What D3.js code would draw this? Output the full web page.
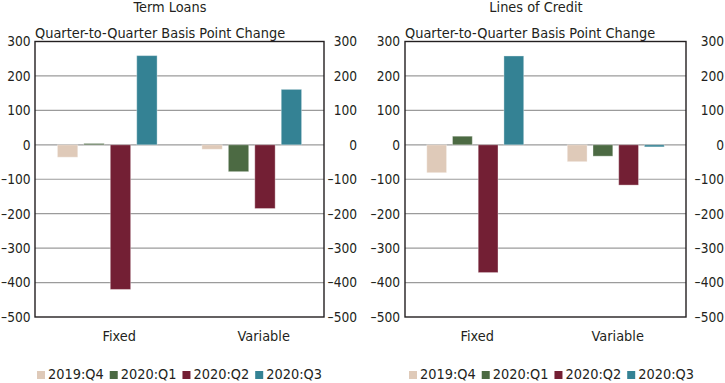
<!DOCTYPE html>
<html>
<head>
<meta charset="utf-8">
<script src="https://cdn.jsdelivr.net/npm/d3@7"></script>
<style>
  html, body { margin: 0; padding: 0; background: #ffffff; }
  svg { display: block; }
  text { font-family: "DejaVu Sans Condensed", "DejaVu Sans", sans-serif; font-stretch: condensed; fill: #231f20; }
</style>
</head>
<body>
<svg id="chart" width="725" height="383"></svg>
<script>
// ---- data ----
const categories = ["Fixed", "Variable"];
const seriesNames = ["2019:Q4", "2020:Q1", "2020:Q2", "2020:Q3"];
const panelTitles = ["Term Loans", "Lines of Credit"];
const subtitle = "Quarter-to-Quarter Basis Point Change";
// values per category, in series order
const termLoansFixed    = [-36, 4, -420, 259];
const termLoansVariable = [-13, -78, -185, 161];
const linesOfCreditFixed    = [-81, 25, -371, 258];
const linesOfCreditVariable = [-49, -33, -117, -6];
const yTicks = [300, 200, 100, 0, -100, -200, -300, -400, -500];
const seriesColors = ["#dfcab9", "#4c6a43", "#731f34", "#348294"];

// ---- layout ----
const svg = d3.select("#chart");
const panels = [
  { title: panelTitles[0], data: [termLoansFixed, termLoansVariable],
    x0: 35, x1: 324, rightLabelX: 33, leftPad: 4.5, catDx: 12, legendX: 37 },
  { title: panelTitles[1], data: [linesOfCreditFixed, linesOfCreditVariable],
    x0: 405, x1: 686, rightLabelX: 38, leftPad: 5, catDx: 2, legendX: 409 }
];
const yTop = 41.5, yBottom = 317;
const y = d3.scaleLinear().domain([-500, 300]).range([yBottom, yTop]);
const color = d3.scaleOrdinal().domain(seriesNames).range(seriesColors);
const fmt = d => (d < 0 ? "\u2013" : "") + Math.abs(d);
const textSize = "14.4px";
const tickSize = "13.6px";

panels.forEach(p => {
  const g = svg.append("g");
  const x0 = d3.scaleBand().domain(categories).range([p.x0, p.x1])
    .paddingInner(0.31).paddingOuter(0.155);
  const x1 = d3.scaleBand().domain(seriesNames).range([0, x0.bandwidth()])
    .paddingInner(0.23).paddingOuter(0);

  // gridlines
  g.append("g").selectAll("line")
    .data(yTicks.filter(t => t !== 300 && t !== -500))
    .join("line")
    .attr("x1", p.x0).attr("x2", p.x1)
    .attr("y1", d => y(d)).attr("y2", d => y(d))
    .attr("stroke", "#9b9b9b").attr("stroke-width", 1.2);

  // bars
  const groups = g.append("g").selectAll("g")
    .data(categories.map((c, i) => ({ cat: c, vals: p.data[i] })))
    .join("g")
    .attr("transform", d => `translate(${x0(d.cat)},0)`);
  groups.selectAll("rect")
    .data(d => d.vals.map((v, i) => ({ s: seriesNames[i], v })))
    .join("rect")
    .attr("x", d => x1(d.s))
    .attr("width", x1.bandwidth())
    .attr("y", d => Math.min(y(d.v), y(0)))
    .attr("height", d => Math.abs(y(d.v) - y(0)))
    .attr("fill", d => color(d.s))
    .attr("stroke", "#ffffff").attr("stroke-opacity", 0.35).attr("stroke-width", 1);

  // frame
  g.append("rect")
    .attr("x", p.x0).attr("y", yTop)
    .attr("width", p.x1 - p.x0).attr("height", yBottom - yTop)
    .attr("fill", "none").attr("stroke", "#231f20").attr("stroke-width", 1.4);

  // left axis labels
  const left = g.append("g").attr("transform", `translate(${p.x0},0)`)
    .call(d3.axisLeft(y).tickValues(yTicks).tickFormat(fmt).tickSize(0).tickPadding(p.leftPad));
  left.select(".domain").remove();
  left.selectAll("text").style("font-size", tickSize).attr("fill", "#231f20")
    .style("font-family", null);

  // right axis labels (right-aligned)
  const right = g.append("g").attr("transform", `translate(${p.x1},0)`)
    .call(d3.axisRight(y).tickValues(yTicks).tickFormat(fmt).tickSize(0));
  right.select(".domain").remove();
  right.selectAll("text").style("font-size", tickSize).attr("fill", "#231f20")
    .attr("text-anchor", "end").attr("x", p.rightLabelX)
    .style("font-family", null);

  // category labels
  g.append("g").selectAll("text")
    .data(categories)
    .join("text")
    .attr("x", d => x0(d) + x0.bandwidth() / 2 + p.catDx)
    .attr("y", 340.5)
    .attr("text-anchor", "middle")
    .style("font-size", textSize)
    .text(d => d);

  // title and subtitle
  g.append("text")
    .attr("x", (p.x0 + p.x1) / 2 - 9.5).attr("y", 11.5)
    .attr("text-anchor", "middle").style("font-size", textSize)
    .text(p.title);
  g.append("text")
    .attr("x", p.x0).attr("y", 37.5)
    .style("font-size", textSize)
    .text(subtitle);

  // legend
  const lg = g.append("g");
  let lx = p.legendX;
  seriesNames.forEach((s, i) => {
    lg.append("rect").attr("x", lx).attr("y", 371).attr("width", 8).attr("height", 8)
      .attr("fill", color(s));
    const t = lg.append("text").attr("x", lx + 11).attr("y", 379)
      .style("font-size", textSize).text(s);
    lx += 11 + t.node().getComputedTextLength() + 6;
  });
});
</script>
</body>
</html>
